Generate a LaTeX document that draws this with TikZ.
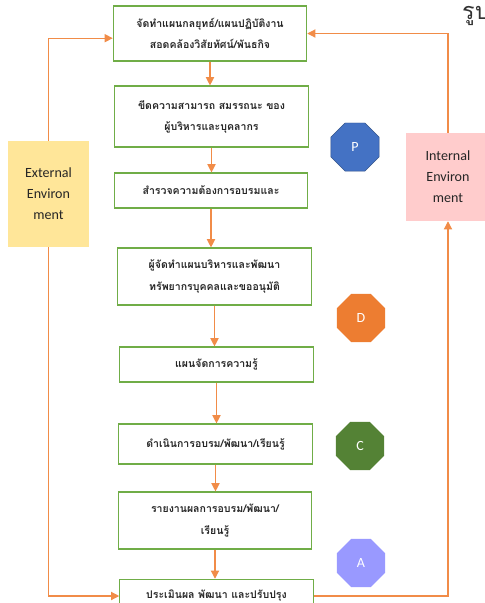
\documentclass[tikz,border=0pt]{standalone}
\usepackage{fontspec}
\setmainfont{Carlito}
\newfontfamily\thaifont[Script=Thai]{Loma}
\usetikzlibrary{shapes.geometric, arrows.meta}
\definecolor{boxgreen}{RGB}{112,173,71}
\definecolor{flowline}{RGB}{241,140,72}
\definecolor{pblue}{RGB}{68,114,196}
\definecolor{dorange}{RGB}{237,125,49}
\definecolor{cgreen}{RGB}{84,130,53}
\definecolor{alilac}{RGB}{153,153,255}
\definecolor{extyellow}{RGB}{255,230,153}
\definecolor{intpink}{RGB}{255,204,204}

\begin{document}
\begin{tikzpicture}[x=0.03cm, y=-0.03cm,
    stepbox/.style={draw=boxgreen, line width=1pt, fill=white, align=center,
        minimum width=5.8cm, text=black!85,
        font=\thaifont\bfseries\fontsize{9}{18}\selectfont},
    octa/.style={regular polygon, regular polygon sides=8, minimum size=1.56cm,
        inner sep=0pt, text=white, font=\fontsize{12}{14}\selectfont},
    envbox/.style={align=center, text=black!85, font=\fontsize{12}{18}\selectfont},
    flow/.style={draw=flowline, line width=1pt, -{Triangle[length=7pt,width=7pt]}}]

    \useasboundingbox (0,0) rectangle (485,603);

    % Draw the steps
    \node[stepbox, minimum height=1.65cm] (b1) at (210,33.5) {จัดทำแผนกลยุทธ์/แผนปฏิบัติงาน\\สอดคล้องวิสัยทัศน์/พันธกิจ};
    \node[stepbox, minimum height=1.83cm] (b2) at (211.5,116.5) {ขีดความสามารถ สมรรถนะ ของ\\ผู้บริหารและบุคลากร};
    \node[stepbox, minimum height=1.05cm] (b3) at (211,190.5) {สำรวจความต้องการอบรมและ};
    \node[stepbox, minimum height=1.71cm] (b4) at (214.5,276.5) {ผู้จัดทำแผนบริหารและพัฒนา\\ทรัพยากรบุคคลและขออนุมัติ};
    \node[stepbox, minimum height=1.05cm] (b5) at (216.5,364.5) {แผนจัดการความรู้};
    \node[stepbox, minimum height=1.2cm] (b6) at (215.5,444) {ดำเนินการอบรม/พัฒนา/เรียนรู้};
    \node[stepbox, minimum height=1.71cm] (b7) at (215,520.5) {รายงานผลการอบรม/พัฒนา/\\เรียนรู้};
    \node[stepbox, minimum height=1.0cm] (b8) at (216.5,596) {ประเมินผล พัฒนา และปรับปรุง};

    % Draw the PDCA marks
    \node[octa, fill=pblue, draw=pblue!70!black] (p) at (355,147) {P};
    \node[octa, fill=dorange] (d) at (361,318) {D};
    \node[octa, fill=cgreen] (c) at (360,446) {C};
    \node[octa, fill=alilac] (a) at (361,563) {A};

    % Environment boxes
    \node[envbox, fill=extyellow, minimum width=2.43cm, minimum height=3.18cm] (ext) at (48.5,194) {External\\Environ\\ment};
    \node[envbox, fill=intpink, minimum width=2.5cm, minimum height=2.64cm] (int) at (448,177) {Internal\\Environ\\ment};

    % Cut-off caption
    \node[anchor=north west, inner sep=0pt, text=black!80, font=\thaifont\fontsize{20}{22}\selectfont] (cap) at (462,2) {รูป};

    % Draw the arrows
    \draw[flow] (b1.south) -- (b1.south |- b2.north);
    \draw[flow] (b2.south) -- (b2.south |- b3.north);
    \draw[flow] (b3.south) -- (b3.south |- b4.north);
    \draw[flow] (b4.south) -- (b4.south |- b5.north);
    \draw[flow] (b5.south) -- (b5.south |- b6.north);
    \draw[flow] (b6.south) -- (b6.south |- b7.north);
    \draw[flow] (b7.south) -- (b7.south |- b8.north);

    \draw[flow] (ext.north) |- ([yshift=-4pt]b1.west);
    \draw[flow] (ext.south) |- (b8.west);
    \draw[flow] (b8.east) -| (int.south);
    \draw[flow] (int.north) |- (b1.east);
\end{tikzpicture}
\end{document}
